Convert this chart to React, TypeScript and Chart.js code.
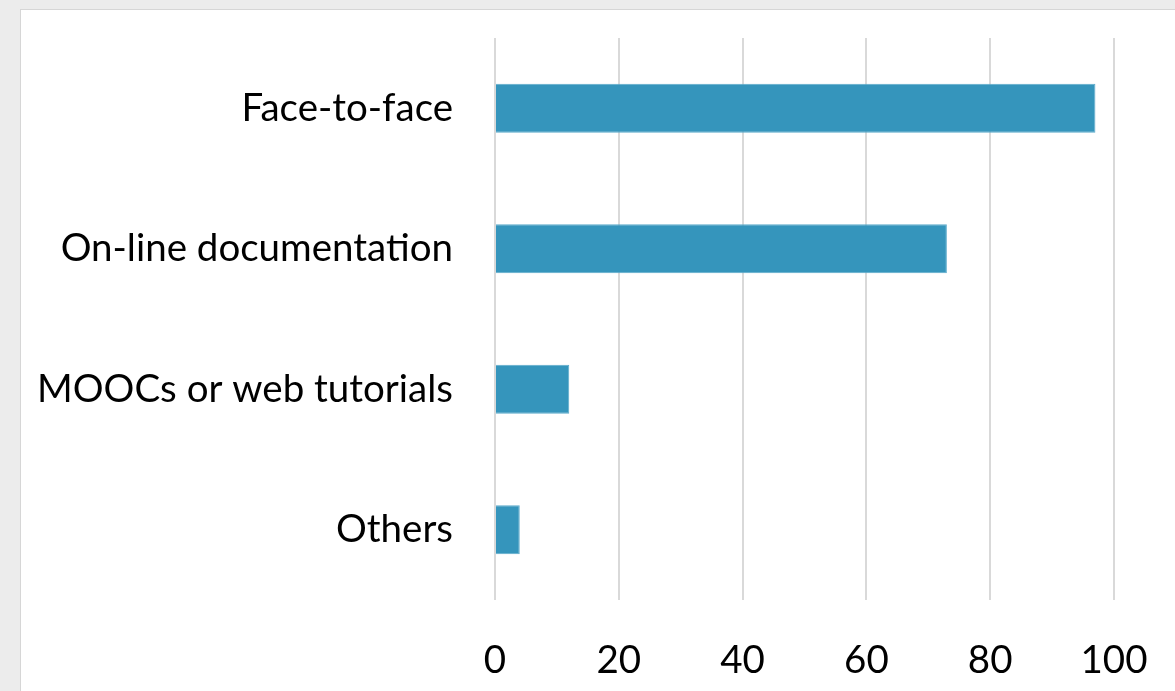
import React, { useEffect, useRef } from "react";
import { Chart, registerables } from "chart.js";

Chart.register(...registerables);

const categories = ["Face-to-face", "On-line documentation", "MOOCs or web tutorials", "Others"];
const values = [97, 73, 12, 4];
const xTicks = [0, 20, 40, 60, 80, 100];

const FONT = "Lato, 'Open Sans', sans-serif";

export default function App() {
  const ref = useRef<HTMLCanvasElement | null>(null);

  useEffect(() => {
    document.body.style.margin = "0";
    const canvas = ref.current!;
    const chart = new Chart(canvas, {
      type: "bar",
      data: {
        labels: categories,
        datasets: [
          {
            data: values,
            backgroundColor: "#3595BC",
            borderColor: "#5BAACB",
            borderWidth: 1,
            categoryPercentage: 0.7,
            barPercentage: 0.5,
          },
        ],
      },
      options: {
        indexAxis: "y",
        animation: false,
        responsive: false,
        maintainAspectRatio: false,
        layout: { padding: { top: 38, right: 61, left: 0, bottom: 0 } },
        plugins: { legend: { display: false }, tooltip: { enabled: false } },
        scales: {
          x: {
            min: 0,
            max: 100,
            afterBuildTicks: (axis: any) => {
              axis.ticks = xTicks.map((v) => ({ value: v }));
            },
            afterFit: (axis: any) => {
              axis.height = 91;
              axis.paddingLeft = 0;
              axis.paddingRight = 0;
            },
            grid: { display: true, color: "#D9D9D9", lineWidth: 2, drawTicks: false },
            border: { display: false },
            ticks: {
              color: "#000",
              padding: 37,
              font: { family: FONT, size: 38.5 },
              maxRotation: 0,
            },
          },
          y: {
            afterFit: (axis: any) => {
              axis.width = 495;
              axis.paddingTop = 0;
              axis.paddingBottom = 0;
            },
            grid: { display: false, drawTicks: false },
            border: { display: false },
            ticks: {
              color: "#000",
              padding: 42,
              font: { family: FONT, size: 38.5 },
            },
          },
        },
      },
    });
    return () => chart.destroy();
  }, []);

  return (
    <div style={{ position: "fixed", inset: 0, background: "#ECECEC", overflow: "hidden" }}>
      <div
        style={{
          position: "absolute",
          left: 20,
          top: 9,
          width: 1175,
          height: 700,
          background: "#FFFFFF",
          border: "1px solid #D6D6D6",
        }}
      />
      <canvas
        ref={ref}
        width={1175}
        height={691}
        style={{ position: "absolute", left: 0, top: 0, width: 1175, height: 691 }}
      />
    </div>
  );
}
